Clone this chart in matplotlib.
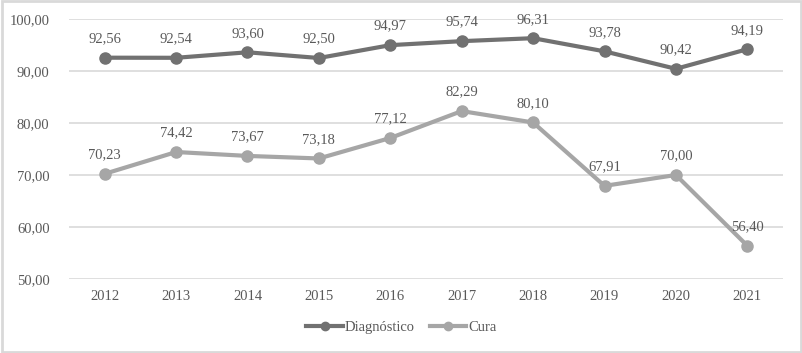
import matplotlib.pyplot as plt
import numpy as np
from matplotlib.ticker import FuncFormatter
from matplotlib.patches import Rectangle

plt.rcParams['font.family'] = ['Liberation Serif', 'DejaVu Serif']

# dados
anos = ['2012', '2013', '2014', '2015', '2016', '2017', '2018', '2019', '2020', '2021']
diagnostico = [92.56, 92.54, 93.60, 92.50, 94.97, 95.74, 96.31, 93.78, 90.42, 94.19]
cura = [70.23, 74.42, 73.67, 73.18, 77.12, 82.29, 80.10, 67.91, 70.00, 56.40]

cor_diag = '#717171'
cor_cura = '#a6a6a6'
cor_texto = '#595959'

fig = plt.figure(figsize=(8.03, 3.53), dpi=100)
ax = fig.add_axes([69 / 803, 74 / 353, 714 / 803, 260 / 353])

x = np.arange(len(anos))
ax.plot(x, diagnostico, color=cor_diag, lw=3, marker='o', ms=8, label='Diagnóstico')
ax.plot(x, cura, color=cor_cura, lw=3, marker='o', ms=8, label='Cura')

def fmt(v):
    return f'{v:.2f}'.replace('.', ',')

for serie in (diagnostico, cura):
    for xi, v in zip(x, serie):
        ax.annotate(fmt(v), (xi, v), xytext=(0, 9), textcoords='offset points',
                    ha='center', va='bottom', fontsize=10.5, color=cor_texto)

ax.set_xlim(-0.5, len(anos) - 0.5)
ax.set_ylim(50, 100)
ax.set_yticks(np.arange(50, 101, 10))
ax.yaxis.set_major_formatter(FuncFormatter(lambda v, p: fmt(v)))
ax.set_xticks(x)
ax.set_xticklabels(anos)
ax.tick_params(length=0, labelsize=10.5, colors=cor_texto)
ax.tick_params(axis='y', pad=14)
ax.tick_params(axis='x', pad=8)
ax.grid(axis='y', color='#d9d9d9', lw=1.2)
ax.set_axisbelow(True)
for s in ax.spines.values():
    s.set_visible(False)

fig.legend(loc='center', bbox_to_anchor=(0.5, 1 - 327 / 353), ncol=2,
           frameon=False, fontsize=10.5, handlelength=2.5, columnspacing=1.0,
           handletextpad=0.15, labelcolor=cor_texto, markerscale=0.75)

fig.patches.append(Rectangle((0.002, 0.003), 0.996, 0.994, transform=fig.transFigure,
                             fill=False, edgecolor='#d9d9d9', lw=2))

fig.savefig('out.png', dpi=100)
